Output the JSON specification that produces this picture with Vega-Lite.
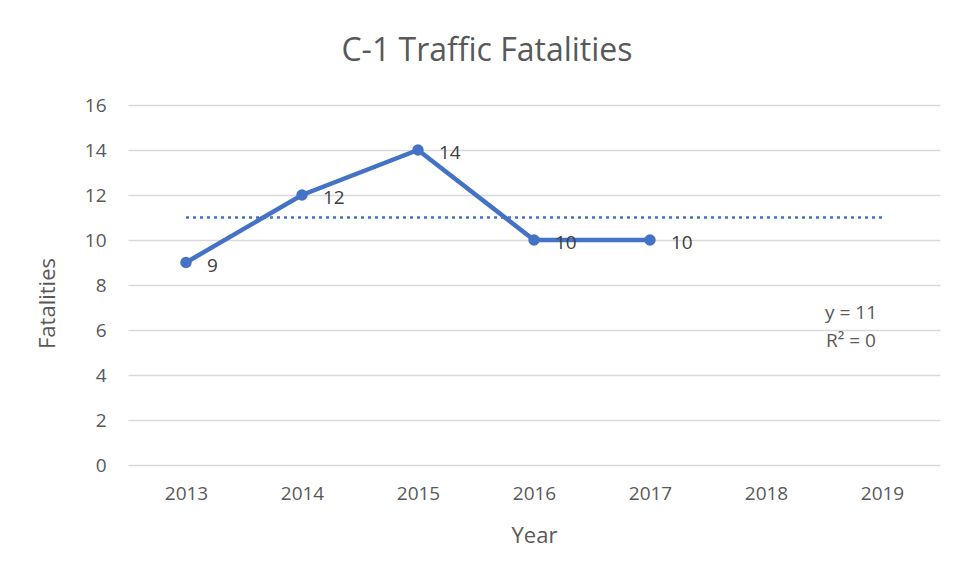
{
  "$schema": "https://vega.github.io/schema/vega-lite/v6.json",
  "autosize": "none",
  "width": 812,
  "height": 360,
  "padding": {"left": 128, "top": 105, "right": 16, "bottom": 113},
  "background": "white",
  "title": {
    "text": "C-1 Traffic Fatalities",
    "font": "Open Sans",
    "fontSize": 32,
    "fontWeight": "normal",
    "color": "#595959",
    "anchor": "middle",
    "offset": 13,
    "baseline": "middle",
    "dx": -47
  },
  "datasets": {
    "fat": [
      {"year": "2013", "value": 9},
      {"year": "2014", "value": 12},
      {"year": "2015", "value": 14},
      {"year": "2016", "value": 10},
      {"year": "2017", "value": 10}
    ],
    "trend": [
      {"year": "2013", "trend": 11},
      {"year": "2019", "trend": 11}
    ],
    "eq": [
      {"year": "2019", "pos": 6.76, "label": "y = 11"},
      {"year": "2019", "pos": 5.51, "label": "R² = 0"}
    ]
  },
  "config": {
    "view": {"stroke": null},
    "font": "Open Sans",
    "axis": {
      "labelFont": "Open Sans",
      "titleFont": "Open Sans",
      "labelColor": "#595959",
      "titleColor": "#595959",
      "labelFontSize": 19,
      "titleFontSize": 22,
      "titleFontWeight": "normal",
      "domain": false,
      "ticks": false
    }
  },
  "layer": [
    {
      "data": {"name": "trend"},
      "mark": {"type": "line", "color": "#4472C4", "strokeWidth": 2.5, "strokeDash": [3, 4]},
      "encoding": {
        "x": {
          "field": "year", "type": "ordinal",
          "scale": {"type": "point", "padding": 0.5, "domain": ["2013","2014","2015","2016","2017","2018","2019"]},
          "axis": {"title": "Year", "labelAngle": 0, "labelBaseline": "middle", "labelPadding": 28, "grid": false, "titleBaseline": "middle", "titleY": 70}
        },
        "y": {
          "field": "trend", "type": "quantitative",
          "scale": {"domain": [0, 16]},
          "axis": {"title": "Fatalities", "values": [0,2,4,6,8,10,12,14,16], "gridColor": "#d9d9d9", "gridWidth": 1.3, "labelPadding": 22, "titleBaseline": "middle", "titleX": -81, "titleY": 198}
        }
      }
    },
    {
      "data": {"name": "fat"},
      "mark": {"type": "line", "color": "#4472C4", "strokeWidth": 4.5, "point": {"filled": true, "size": 130, "color": "#4472C4"}},
      "encoding": {
        "x": {"field": "year", "type": "ordinal"},
        "y": {"field": "value", "type": "quantitative"}
      }
    },
    {
      "data": {"name": "fat"},
      "mark": {"type": "text", "align": "left", "baseline": "middle", "dx": 21, "dy": 3, "fontSize": 19, "color": "#404040", "font": "Open Sans"},
      "encoding": {
        "x": {"field": "year", "type": "ordinal"},
        "y": {"field": "value", "type": "quantitative"},
        "text": {"field": "value", "type": "quantitative"}
      }
    },
    {
      "data": {"name": "eq"},
      "mark": {"type": "text", "align": "center", "baseline": "middle", "dx": -31, "fontSize": 19, "color": "#595959", "font": "Open Sans"},
      "encoding": {
        "x": {"field": "year", "type": "ordinal"},
        "y": {"field": "pos", "type": "quantitative"},
        "text": {"field": "label", "type": "nominal"}
      }
    }
  ]
}
